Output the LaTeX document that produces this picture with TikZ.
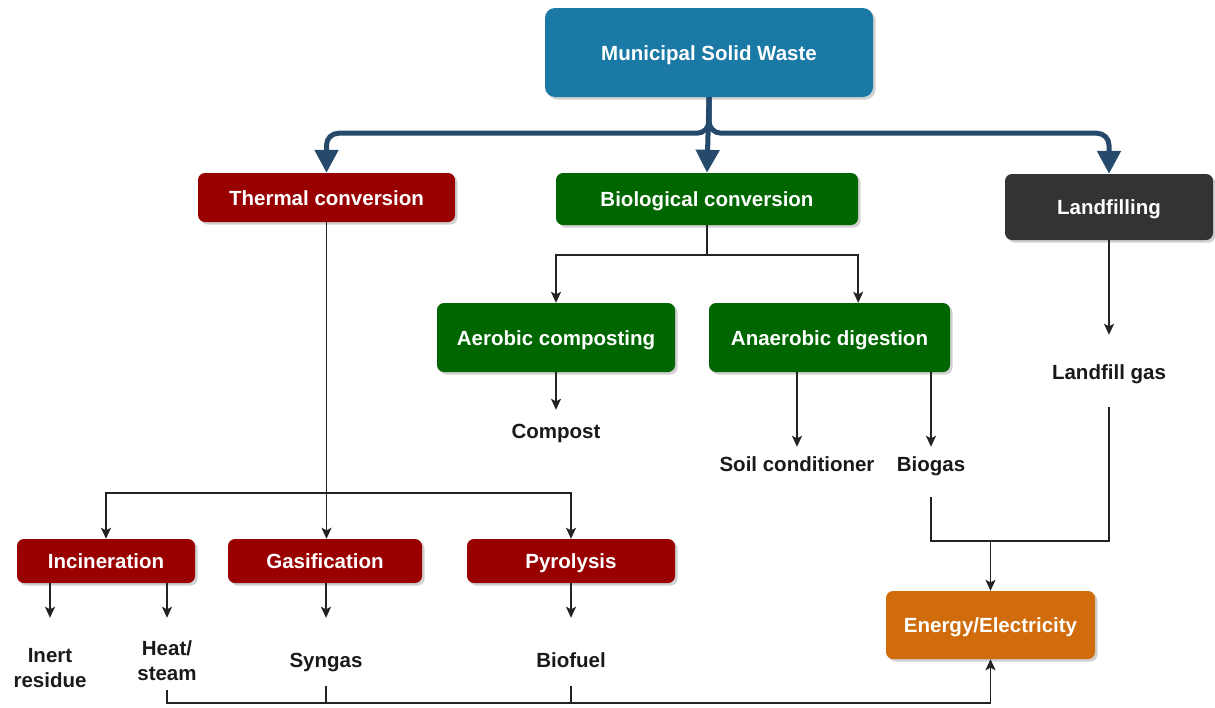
\documentclass[tikz,border=0pt]{standalone}
\usepackage{fontspec}
\setmainfont{Liberation Sans}
\usetikzlibrary{arrows.meta,shadows,calc}
\definecolor{mswblue}{RGB}{27,121,166}
\definecolor{thred}{RGB}{153,0,0}
\definecolor{biogreen}{RGB}{0,102,0}
\definecolor{landgray}{RGB}{51,51,51}
\definecolor{enorange}{RGB}{208,108,12}
\definecolor{navy}{RGB}{37,74,108}
\definecolor{linec}{RGB}{35,35,35}
\tikzset{
  box/.style={draw=none, rounded corners=7pt, text=white, font=\bfseries\fontsize{20.5}{24}\selectfont,
    align=center, inner sep=0pt, text height=15pt, text depth=0pt,
    drop shadow={shadow xshift=2.5pt, shadow yshift=-2.5pt, opacity=0.3, fill=black!60}},
  lbl/.style={inner sep=0pt, align=center, text height=15pt, text depth=0pt,
    font=\bfseries\fontsize{20.5}{25}\selectfont, text=black!90},
  bigarr/.style={draw=navy, line width=5pt, -{Triangle[width=23pt,length=23pt]}},
  arr/.style={draw=linec, line width=1.6pt, -{Stealth[length=11pt,width=10pt,inset=2.5pt]}},
  ln/.style={draw=linec, line width=1.6pt},
}
\begin{document}
\begin{tikzpicture}[x=1pt,y=-1pt]
\useasboundingbox (0,0) rectangle (1215,707);
% boxes
\node[box, fill=mswblue, rounded corners=10pt, minimum width=328pt, minimum height=89pt] (msw) at (709,52.5) {Municipal Solid Waste};
\node[box, fill=thred, minimum width=257pt, minimum height=49pt] (thermal) at (326.5,197.5) {Thermal conversion};
\node[box, fill=biogreen, minimum width=302pt, minimum height=52pt] (bio) at (707,199) {Biological conversion};
\node[box, fill=landgray, minimum width=208pt, minimum height=66pt] (land) at (1109,207) {Landfilling};
\node[box, fill=biogreen, minimum width=238pt, minimum height=69pt] (aer) at (556,337.5) {Aerobic composting};
\node[box, fill=biogreen, minimum width=241pt, minimum height=69pt] (ana) at (829.5,337.5) {Anaerobic digestion};
\node[box, fill=thred, minimum width=178pt, minimum height=44pt] (inc) at (106,561) {Incineration};
\node[box, fill=thred, minimum width=194pt, minimum height=44pt] (gas) at (325,561) {Gasification};
\node[box, fill=thred, minimum width=208pt, minimum height=44pt] (pyr) at (571,561) {Pyrolysis};
\node[box, fill=enorange, minimum width=209pt, minimum height=68pt] (energy) at (990.5,625) {Energy/Electricity};
% labels
\node[lbl] (compost) at (556,431) {Compost};
\node[lbl] (soil) at (797,464) {Soil conditioner};
\node[lbl] (biogas) at (931,464) {Biogas};
\node[lbl] (lgas) at (1109,372) {Landfill gas};
\node[lbl] (inert) at (50,680) {Inert\\residue};
\node[lbl] (heat) at (167,673) {Heat/\\steam};
\node[lbl] (syngas) at (326,660) {Syngas};
\node[lbl] (biofuel) at (571,660) {Biofuel};
% thick connectors
\coordinate (mj) at ($(msw.south)+(0,36)$);
\draw[bigarr, rounded corners=12pt] (msw.south) -- (mj) -| (thermal.north);
\draw[bigarr, rounded corners=12pt] (msw.south) -- (mj) -| (land.north);
\draw[bigarr] (msw.south) -- (bio.north);
% biological
\coordinate (bj) at ($(bio.south)+(0,30)$);
\draw[ln] (bio.south) -- (bj);
\draw[arr] (bj) -| (aer.north);
\draw[arr] (bj) -| (bio.south east |- ana.north);
\draw[arr, shorten >=13.5pt] (aer.south) -- (compost.north);
\draw[arr, shorten >=9.5pt] (soil.north |- ana.south) -- (soil.north);
\draw[arr, shorten >=9.5pt] (biogas.north |- ana.south) -- (biogas.north);
% landfill
\draw[arr, shorten >=29.5pt] (land.south) -- (lgas.north);
% to energy
\coordinate (ej) at ($(energy.north)+(0,-50)$);
\draw[ln, shorten <=25.5pt] (biogas.south) |- (ej);
\draw[ln, shorten <=27.5pt] (lgas.south) |- (ej);
\draw[arr] (ej) -- (energy.north);
% thermal
\coordinate (tj) at ($(gas.north)+(0,-46)$);
\draw[arr] (thermal.south) -- (thermal.south |- gas.north);
\draw[arr] (tj) -| (inc.north);
\draw[arr] (tj) -| (pyr.north);
\draw[arr, shorten >=54.5pt] (inc.south -| inert.north) -- (inert.north);
\draw[arr, shorten >=47.5pt] (inc.south -| heat.north) -- (heat.north);
\draw[arr, shorten >=34.5pt] (gas.south -| syngas.north) -- (syngas.north);
\draw[arr, shorten >=34.5pt] (pyr.south -| biofuel.north) -- (biofuel.north);
% bottom bus
\coordinate (bus) at ($(energy.south)+(0,44)$);
\draw[arr, shorten <=9.5pt] (heat.south) |- (bus) -- (energy.south);
\draw[ln, shorten <=18.5pt] (syngas.south) -- (syngas.south |- bus);
\draw[ln, shorten <=18.5pt] (biofuel.south) -- (biofuel.south |- bus);
\end{tikzpicture}
\end{document}
